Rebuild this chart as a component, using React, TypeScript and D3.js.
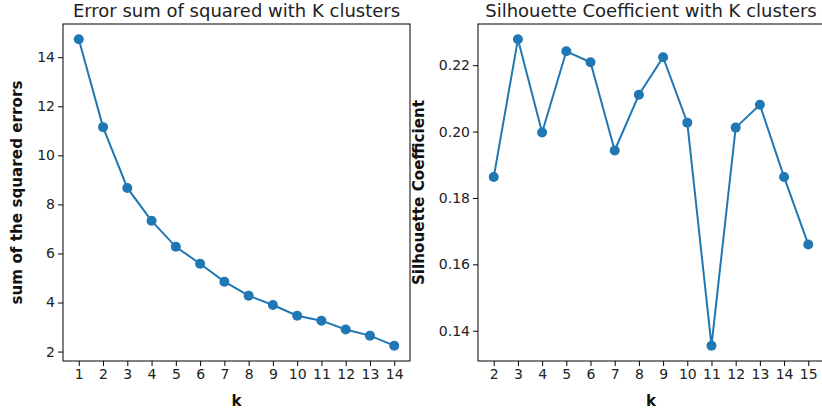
import { useEffect, useRef } from 'react';
import * as d3 from 'd3';

const sseK = [1, 2, 3, 4, 5, 6, 7, 8, 9, 10, 11, 12, 13, 14];
const sseValues = [14.73, 11.15, 8.67, 7.33, 6.27, 5.58, 4.85, 4.28, 3.9, 3.46, 3.26, 2.9, 2.65, 2.24];
const sseTicks = [2, 4, 6, 8, 10, 12, 14];

const silK = [2, 3, 4, 5, 6, 7, 8, 9, 10, 11, 12, 13, 14, 15];
const silValues = [0.1863, 0.2278, 0.1997, 0.2242, 0.2209, 0.1943, 0.2111, 0.2224, 0.2027, 0.1355, 0.2012, 0.2081, 0.1863, 0.166];
const silTicks = [0.14, 0.16, 0.18, 0.2, 0.22];

const BLUE = '#1f77b4';
const FONT = 'DejaVu Sans, sans-serif';

interface PanelSpec {
  left: number;
  right: number;
  ks: number[];
  values: number[];
  yTicks: number[];
  yFormat: (v: number) => string;
  title: string;
  yLabel: string;
  yLabelX: number;
}

export default function App() {
  const svgRef = useRef<SVGSVGElement>(null);

  useEffect(() => {
    if (!svgRef.current) return;
    const root = d3.select(svgRef.current);
    root.selectAll('*').remove();

    const top = 24;
    const bottom = 361;

    const panels: PanelSpec[] = [
      {
        left: 63,
        right: 410,
        ks: sseK,
        values: sseValues,
        yTicks: sseTicks,
        yFormat: (v) => d3.format('d')(v),
        title: 'Error sum of squared with K clusters',
        yLabel: 'sum of the squared errors',
        yLabelX: 22,
      },
      {
        left: 478,
        right: 824,
        ks: silK,
        values: silValues,
        yTicks: silTicks,
        yFormat: (v) => d3.format('.2f')(v),
        title: 'Silhouette Coefficient with K clusters',
        yLabel: 'Silhouette Coefficient',
        yLabelX: 424,
      },
    ];

    panels.forEach((p) => {
      const kMin = d3.min(p.ks) as number;
      const kMax = d3.max(p.ks) as number;
      const kPad = (kMax - kMin) * 0.05;
      const vMin = d3.min(p.values) as number;
      const vMax = d3.max(p.values) as number;
      const vPad = (vMax - vMin) * 0.05;

      const x = d3.scaleLinear().domain([kMin - kPad, kMax + kPad]).range([p.left, p.right]);
      const y = d3.scaleLinear().domain([vMin - vPad, vMax + vPad]).range([bottom, top]);

      const g = root.append('g');

      // x axis
      const xAxis = g
        .append('g')
        .attr('transform', `translate(0,${bottom})`)
        .call(d3.axisBottom(x).tickValues(p.ks).tickFormat(d3.format('d')).tickSize(5).tickSizeOuter(0));
      xAxis.select('.domain').remove();
      xAxis.selectAll('line').attr('stroke', '#000').attr('stroke-width', 1);
      xAxis
        .selectAll('text')
        .attr('font-family', FONT)
        .attr('font-size', 14)
        .attr('fill', '#222')
        .attr('dy', '0.71em')
        .attr('y', 8);

      // y axis
      const yAxis = g
        .append('g')
        .attr('transform', `translate(${p.left},0)`)
        .call(d3.axisLeft(y).tickValues(p.yTicks).tickFormat((d) => p.yFormat(d as number)).tickSize(5).tickSizeOuter(0));
      yAxis.select('.domain').remove();
      yAxis.selectAll('line').attr('stroke', '#000').attr('stroke-width', 1);
      yAxis
        .selectAll('text')
        .attr('font-family', FONT)
        .attr('font-size', 14)
        .attr('fill', '#222')
        .attr('x', -8);

      // frame
      g.append('rect')
        .attr('x', p.left)
        .attr('y', top)
        .attr('width', p.right - p.left)
        .attr('height', bottom - top)
        .attr('fill', 'none')
        .attr('stroke', '#000')
        .attr('stroke-width', 1);

      const pts = p.ks.map((k, i) => [k, p.values[i]] as [number, number]);

      const line = d3
        .line<[number, number]>()
        .x((d) => x(d[0]))
        .y((d) => y(d[1]));

      g.append('path')
        .attr('d', line(pts))
        .attr('fill', 'none')
        .attr('stroke', BLUE)
        .attr('stroke-width', 2);

      g.selectAll('.dot')
        .data(pts)
        .enter()
        .append('circle')
        .attr('class', 'dot')
        .attr('cx', (d) => x(d[0]))
        .attr('cy', (d) => y(d[1]))
        .attr('r', 5)
        .attr('fill', BLUE);

      // title
      g.append('text')
        .attr('x', (p.left + p.right) / 2)
        .attr('y', 17)
        .attr('text-anchor', 'middle')
        .attr('font-family', FONT)
        .attr('font-size', 18)
        .attr('fill', '#222')
        .text(p.title);

      // x label
      g.append('text')
        .attr('x', (p.left + p.right) / 2)
        .attr('y', 406)
        .attr('text-anchor', 'middle')
        .attr('font-family', FONT)
        .attr('font-size', 15)
        .attr('font-weight', 'bold')
        .attr('fill', '#111')
        .text('k');

      // y label
      g.append('text')
        .attr('transform', `translate(${p.yLabelX},${(top + bottom) / 2}) rotate(-90)`)
        .attr('text-anchor', 'middle')
        .attr('font-family', FONT)
        .attr('font-size', 15.2)
        .attr('font-weight', 'bold')
        .attr('fill', '#111')
        .text(p.yLabel);
    });
  }, []);

  return (
    <svg
      ref={svgRef}
      width={822}
      height={410}
      style={{ position: 'absolute', left: 0, top: 0, background: '#fff' }}
    />
  );
}
